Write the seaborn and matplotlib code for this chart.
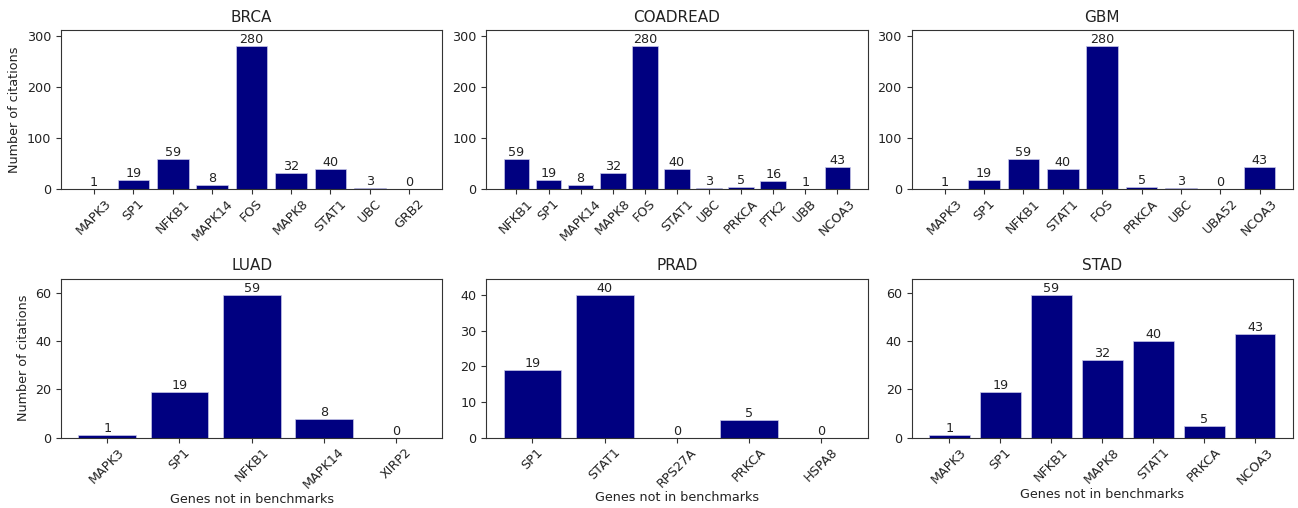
import matplotlib
matplotlib.use("Agg")
import matplotlib.pyplot as plt
import seaborn as sns
import pandas as pd

brca_genes = ["MAPK3", "SP1", "NFKB1", "MAPK14", "FOS", "MAPK8", "STAT1", "UBC", "GRB2"]
brca_vals = [1, 19, 59, 8, 280, 32, 40, 3, 0]
coad_genes = ["NFKB1", "SP1", "MAPK14", "MAPK8", "FOS", "STAT1", "UBC", "PRKCA", "PTK2", "UBB", "NCOA3"]
coad_vals = [59, 19, 8, 32, 280, 40, 3, 5, 16, 1, 43]
gbm_genes = ["MAPK3", "SP1", "NFKB1", "STAT1", "FOS", "PRKCA", "UBC", "UBA52", "NCOA3"]
gbm_vals = [1, 19, 59, 40, 280, 5, 3, 0, 43]
luad_genes = ["MAPK3", "SP1", "NFKB1", "MAPK14", "XIRP2"]
luad_vals = [1, 19, 59, 8, 0]
prad_genes = ["SP1", "STAT1", "RPS27A", "PRKCA", "HSPA8"]
prad_vals = [19, 40, 0, 5, 0]
stad_genes = ["MAPK3", "SP1", "NFKB1", "MAPK8", "STAT1", "PRKCA", "NCOA3"]
stad_vals = [1, 19, 59, 32, 40, 5, 43]

panels = [
    ("BRCA", brca_genes, brca_vals),
    ("COADREAD", coad_genes, coad_vals),
    ("GBM", gbm_genes, gbm_vals),
    ("LUAD", luad_genes, luad_vals),
    ("PRAD", prad_genes, prad_vals),
    ("STAD", stad_genes, stad_vals),
]

FS = 9.2
plt.rcParams["font.size"] = FS
plt.rcParams["text.color"] = "#222222"
plt.rcParams["axes.edgecolor"] = "#333333"
plt.rcParams["xtick.color"] = "#333333"
plt.rcParams["ytick.color"] = "#333333"
plt.rcParams["xtick.labelcolor"] = "#222222"
plt.rcParams["ytick.labelcolor"] = "#222222"
plt.rcParams["axes.labelcolor"] = "#222222"

fig, axes = plt.subplots(2, 3, figsize=(12.98, 5.08), dpi=100)
fig.subplots_adjust(left=0.047, right=0.996, top=0.941, bottom=0.138,
                    wspace=0.1155, hspace=0.56)
for i, (ax, (title, genes, vals)) in enumerate(zip(axes.flat, panels)):
    df = pd.DataFrame({"gene": genes, "count": vals})
    sns.barplot(data=df, x="gene", y="count", color="#000080", saturation=1,
                width=0.8, ax=ax, edgecolor="#c8c8e8", linewidth=0.5)
    for c in ax.containers:
        ax.bar_label(c, fontsize=FS)
    n = len(genes)
    m = 0.05 * (n - 0.2)
    ax.set_xlim(-0.4 - m, n - 0.6 + m)
    ax.set_ylim(0, max(vals) * 1.115)
    ax.set_title(title, fontsize=11)
    ax.tick_params(axis="both", labelsize=FS)
    ax.tick_params(axis="x", rotation=45, pad=2)
    ax.set_ylabel("Number of citations" if i % 3 == 0 else "", fontsize=FS)
    ax.set_xlabel("Genes not in benchmarks" if i >= 3 else "", fontsize=FS, labelpad=1)

fig.savefig("out.png", dpi=100)
